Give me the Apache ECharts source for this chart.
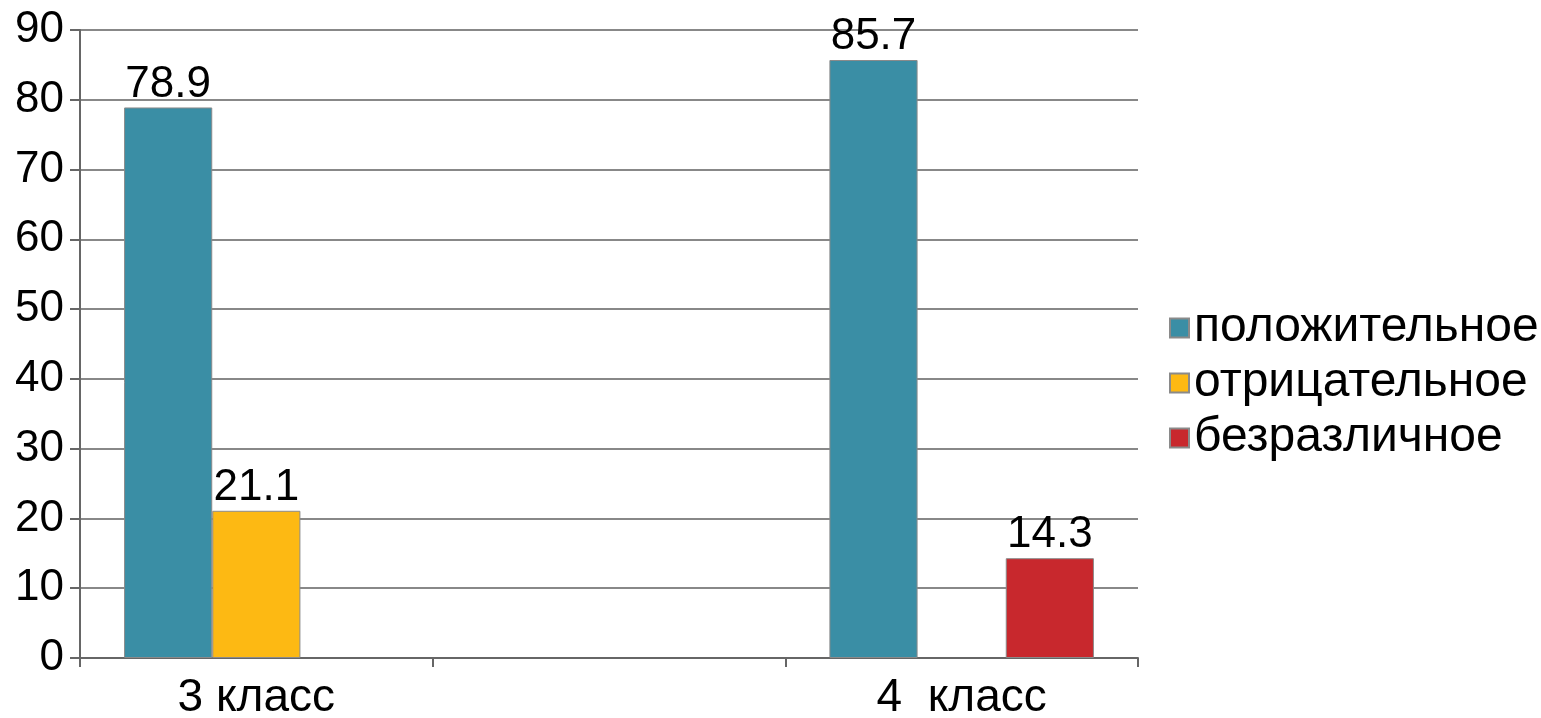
<!DOCTYPE html>
<html>
<head>
<meta charset="utf-8">
<script src="https://cdn.jsdelivr.net/npm/echarts@6/dist/echarts.min.js"></script>
<style>
html,body{margin:0;padding:0;background:#fff;}
#c{width:1541px;height:718px;}
</style>
</head>
<body>
<div id="c"></div>
<script>
var categories = ['3 класс', '', '4  класс'];
var seriesNames = ['положительное', 'отрицательное', 'безразличное'];
var positive = [78.9, null, 85.7];
var negative = [21.1, null, null];
var indifferent = [null, null, 14.3];
var colors = ['#3a8ea5', '#fdb913', '#c8282d'];

var font = 'Liberation Sans, Arial, sans-serif';
function mk(name, data, color) {
  return {
    name: name,
    type: 'bar',
    data: data,
    barGap: '0%',
    barCategoryGap: '25%',
    itemStyle: { color: color, borderColor: '#8a8a8a', borderWidth: 1 },
    label: {
      show: true, position: 'top', distance: 1,
      color: '#000', fontSize: 44, fontFamily: font
    }
  };
}
var chart = echarts.init(document.getElementById('c'));
chart.setOption({
  animation: false,
  color: colors,
  grid: { left: 80, right: 403, top: 30, bottom: 60, containLabel: false, outerBoundsMode: 'none' },
  legend: {
    orient: 'vertical', left: 1164, top: 299,
    itemWidth: 19, itemHeight: 19, itemGap: 7,
    icon: 'rect',
    textStyle: { fontSize: 48, fontFamily: font, color: '#000' },
    data: seriesNames
  },
  xAxis: {
    type: 'category', data: categories,
    axisLine: { lineStyle: { color: '#666', width: 2 } },
    axisTick: { show: true, length: 9, lineStyle: { color: '#666', width: 2 } },
    axisLabel: { fontSize: 46, fontFamily: font, color: '#000', margin: 17 }
  },
  yAxis: {
    type: 'value', min: 0, max: 90, interval: 10,
    axisLine: { show: true, lineStyle: { color: '#666', width: 2 } },
    axisTick: { show: true, length: 10, lineStyle: { color: '#666', width: 2 } },
    axisLabel: { fontSize: 44, fontFamily: font, color: '#000', margin: 16 },
    splitLine: { lineStyle: { color: '#888', width: 2 } }
  },
  series: [
    mk(seriesNames[0], positive, colors[0]),
    mk(seriesNames[1], negative, colors[1]),
    mk(seriesNames[2], indifferent, colors[2])
  ]
});
</script>
</body>
</html>
